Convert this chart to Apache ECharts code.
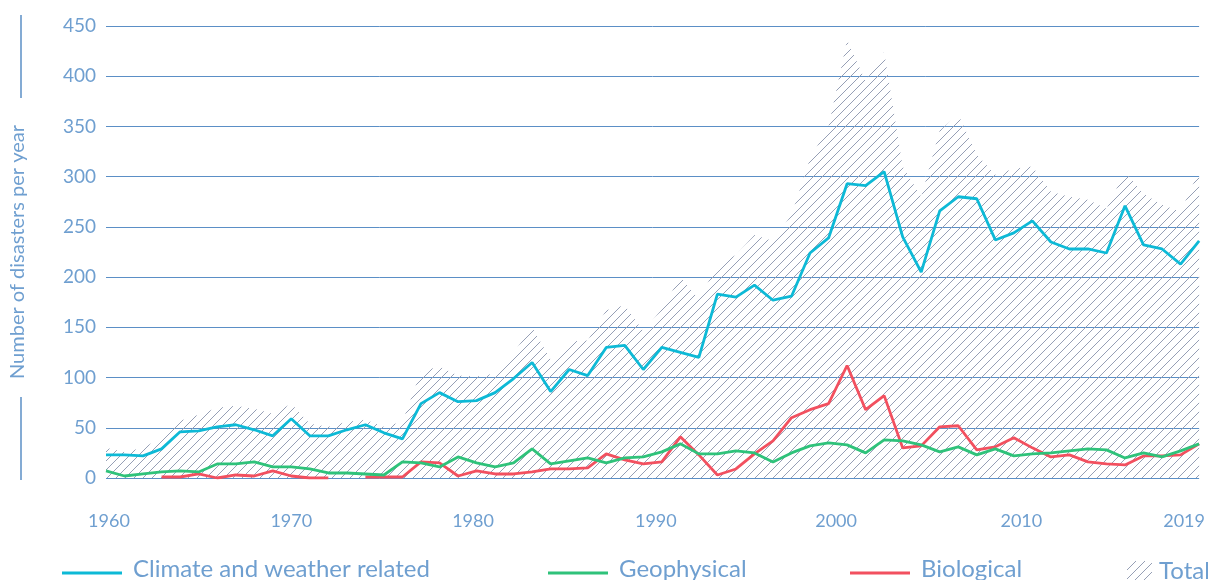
<!DOCTYPE html>
<html>
<head>
<meta charset="utf-8">
<title>Number of disasters per year</title>
<script src="https://cdn.jsdelivr.net/npm/echarts@6/dist/echarts.min.js"></script>
<style>
  html, body { margin: 0; padding: 0; background: #fff; }
  #chart { width: 1208px; height: 580px; }
</style>
</head>
<body>
<div id="chart"></div>
<script>
// data
const years = [
  "1960","1961","1962","1963","1964","1965","1966","1967","1968","1969",
  "1970","1971","1972","1973","1974","1975","1976","1977","1978","1979",
  "1980","1981","1982","1983","1984","1985","1986","1987","1988","1989",
  "1990","1991","1992","1993","1994","1995","1996","1997","1998","1999",
  "2000","2001","2002","2003","2004","2005","2006","2007","2008","2009",
  "2010","2011","2012","2013","2014","2015","2016","2017","2018","2019"
];
const labelYears = ["1960", "1970", "1980", "1990", "2000", "2010", "2019"];

const climate = [
  23, 23, 22, 29, 46, 47, 51, 53, 48, 42,
  59, 42, 42, 48, 53, 45, 39, 74, 85, 76,
  77, 85, 99, 115, 86, 108, 102, 130, 132, 108,
  130, 125, 120, 183, 180, 192, 177, 181, 224, 239,
  293, 291, 305, 240, 205, 266, 280, 278, 237, 244,
  256, 235, 228, 228, 224, 271, 232, 228, 213, 236
];
const geophysical = [
  7, 2, 4, 6, 7, 6, 14, 14, 16, 11,
  11, 9, 5, 5, 4, 3, 16, 15, 11, 21,
  15, 11, 15, 29, 14, 17, 20, 15, 20, 21,
  26, 34, 24, 24, 27, 25, 16, 25, 32, 35,
  33, 25, 38, 37, 33, 26, 31, 23, 29, 22,
  24, 25, 27, 29, 28, 20, 25, 21, 27, 34
];
const biological = [
  null, null, null, 1, 1, 4, 0, 3, 2, 7,
  2, 0, 0, null, 1, 1, 1, 16, 15, 2,
  7, 4, 4, 6, 9, 9, 10, 24, 18, 14,
  16, 41, 23, 3, 9, 24, 37, 60, 68, 74,
  112, 68, 82, 30, 32, 51, 52, 28, 31, 40,
  30, 21, 23, 16, 14, 13, 22, 22, 23, 34
];
const total = [
  30, 26, 30, 40, 57, 63, 70, 72, 69, 64,
  74, 54, 51, 56, 58, 51, 56, 106, 111, 102,
  101, 104, 125, 150, 118, 136, 137, 167, 172, 146,
  168, 200, 178, 212, 222, 242, 236, 262, 318, 350,
  436, 395, 424, 310, 280, 346, 362, 322, 302, 308,
  310, 285, 280, 277, 268, 305, 283, 272, 265, 306
];

const textColor = "#6f9fd0";
const gridColor = "#5b8fc6";
const font = "Lato, 'Open Sans', sans-serif";

// the year labels in the original sit a little left of their data points
const labelNudge = { "1960": 3, "1970": 0, "1980": -3.5, "1990": -6, "2000": -11, "2010": -11, "2019": -15 };
const labelRich = {};
labelYears.forEach((y) => {
  const s = labelNudge[y];
  labelRich["y" + y] = {
    color: textColor,
    fontSize: 18,
    fontFamily: font,
    padding: s < 0 ? [0, -2 * s, 0, 0] : [0, 0, 0, 2 * s]
  };
});

// diagonal hatch used for the Total area
function makeHatch() {
  const c = document.createElement("canvas");
  c.width = 9;
  c.height = 9;
  const g = c.getContext("2d");
  g.strokeStyle = "#969fb5";
  g.lineWidth = 1;
  g.beginPath();
  g.moveTo(0, 9); g.lineTo(9, 0);
  g.moveTo(-1, 1); g.lineTo(1, -1);
  g.moveTo(8, 10); g.lineTo(10, 8);
  g.stroke();
  return c;
}
const hatch = { image: makeHatch(), repeat: "repeat" };

// rich text with bottom padding lifts the words a little above the line icons
const legendText = {
  color: textColor,
  fontSize: 24,
  fontFamily: font,
  rich: { t: { color: textColor, fontSize: 24, fontFamily: font, padding: [0, 0, 8, 6] } }
};
const legendTotalText = {
  color: textColor,
  fontSize: 24,
  fontFamily: font,
  rich: { t: { color: textColor, fontSize: 24, fontFamily: font, padding: [0, 0, 8, 2] } }
};
const legendFmt = (name) => "{t|" + name + "}";

const myChart = echarts.init(document.getElementById("chart"));

const option = {
  animation: false,
  grid: { left: 100, right: 6, top: 26, bottom: 102 },
  graphic: [
    { type: "line", shape: { x1: 21, y1: 15, x2: 21, y2: 98 }, style: { stroke: gridColor, lineWidth: 1.5 } },
    { type: "line", shape: { x1: 21, y1: 397, x2: 21, y2: 480 }, style: { stroke: gridColor, lineWidth: 1.5 } }
  ],
  legend: [
    { left: 57, top: 552, icon: "rect", itemWidth: 60, itemHeight: 3, textStyle: legendText,
      formatter: legendFmt, data: ["Climate and weather related"] },
    { left: 543, top: 552, icon: "rect", itemWidth: 60, itemHeight: 3, textStyle: legendText,
      formatter: legendFmt, data: ["Geophysical"] },
    { left: 845, top: 552, icon: "rect", itemWidth: 60, itemHeight: 3, textStyle: legendText,
      formatter: legendFmt, data: ["Biological"] },
    { left: 1122, top: 554, icon: "rect", itemWidth: 25, itemHeight: 28, textStyle: legendTotalText,
      formatter: legendFmt, data: [{ name: "Total", itemStyle: { color: hatch } }] }
  ],
  xAxis: {
    type: "category",
    data: years,
    boundaryGap: false,
    axisLine: { show: false },
    axisTick: { show: false },
    splitLine: { show: false },
    axisLabel: {
      interval: (i, v) => labelYears.includes(v),
      color: textColor,
      fontSize: 18,
      fontFamily: font,
      margin: 34,
      formatter: (v) => "{y" + v + "|" + v + "}",
      rich: labelRich
    }
  },
  yAxis: {
    type: "value",
    min: 0,
    max: 450,
    interval: 50,
    name: "Number of disasters per year",
    nameLocation: "middle",
    nameRotate: 90,
    nameGap: 78,
    nameTextStyle: { color: textColor, fontSize: 20, fontFamily: font },
    axisLine: { show: false },
    axisTick: { show: false },
    axisLabel: { color: textColor, fontSize: 19, fontFamily: font, margin: 10 },
    splitLine: { lineStyle: { color: gridColor, width: 1 } }
  },
  series: [
    {
      name: "Total",
      type: "line",
      data: total,
      symbol: "none",
      color: "#969fb5",
      lineStyle: { width: 0 },
      areaStyle: { color: hatch, opacity: 1 },
      z: 1
    },
    {
      name: "Biological",
      type: "line",
      data: biological,
      symbol: "none",
      color: "#f2505f",
      lineStyle: { width: 2.8 },
      z: 3
    },
    {
      name: "Geophysical",
      type: "line",
      data: geophysical,
      symbol: "none",
      color: "#2fc27a",
      lineStyle: { width: 2.8 },
      z: 4
    },
    {
      name: "Climate and weather related",
      type: "line",
      data: climate,
      symbol: "none",
      color: "#0db9d6",
      lineStyle: { width: 2.8 },
      z: 5
    }
  ]
};

myChart.setOption(option);
window.addEventListener("resize", () => {
  myChart.resize();
});
</script>
</body>
</html>
